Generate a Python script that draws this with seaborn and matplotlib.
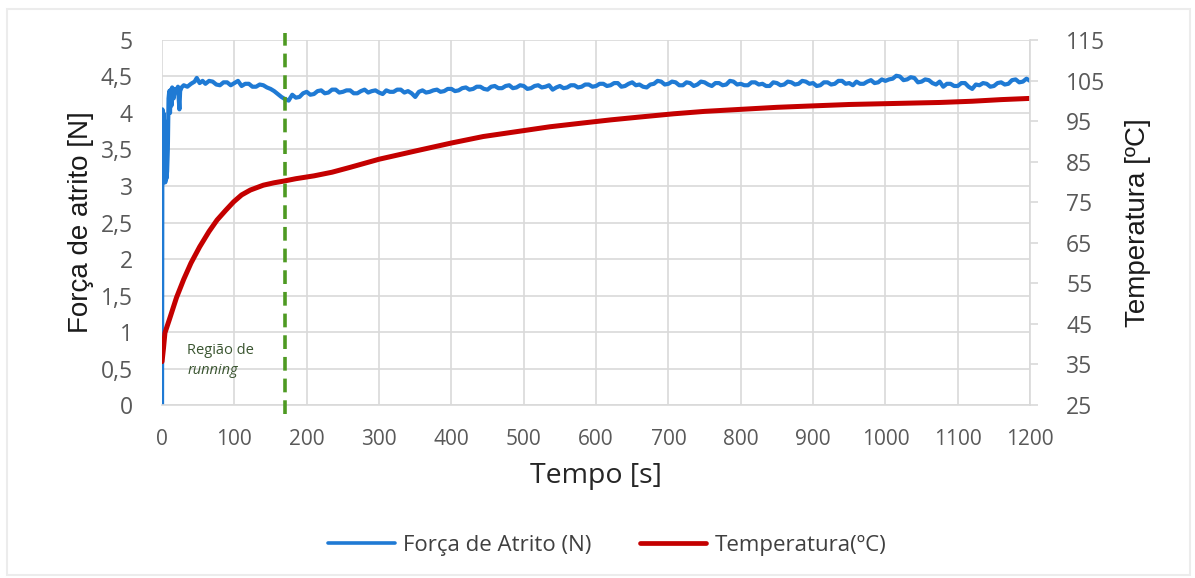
import numpy as np
import pandas as pd
import matplotlib
matplotlib.use('Agg')
import matplotlib.pyplot as plt
import seaborn as sns
from matplotlib.patches import Rectangle
from matplotlib.lines import Line2D

# Friction force [N]: start-up transient
start_time = [0, 0.5, 1, 1.5, 2, 2.5, 3, 3.5, 4, 4.5, 5, 6, 7, 8, 9, 10, 11, 12, 13, 14,
              16, 18, 20, 22, 24, 25, 27, 30, 35, 40, 45, 48, 52, 56]
start_force = [0, 4.05, 3.9, 3.1, 4.0, 3.05, 3.9, 3.1, 3.6, 3.05, 3.3, 3.1, 3.2, 3.5, 4.2, 4.3, 4.0,
               4.32, 4.1, 4.35, 4.2, 4.33, 4.3, 4.36, 4.05, 4.3, 4.35, 4.38, 4.36, 4.4, 4.43, 4.48,
               4.41, 4.44]
# then one reading every 5 s from 60 s to 1200 s
steady_time = list(range(60, 1201, 5))
steady_force = [
    4.40, 4.44, 4.43, 4.39, 4.38, 4.42, 4.42, 4.38, 4.41, 4.44, 4.37, 4.40, 4.40, 4.36, 4.36, 4.39, 4.38, 4.35, 4.33, 4.30,
    4.26, 4.22, 4.19, 4.17, 4.25, 4.21, 4.22, 4.27, 4.29, 4.25, 4.26, 4.30, 4.31, 4.27, 4.28, 4.32, 4.32, 4.28, 4.29, 4.31,
    4.31, 4.27, 4.27, 4.30, 4.32, 4.28, 4.30, 4.31, 4.28, 4.26, 4.31, 4.29, 4.29, 4.32, 4.32, 4.28, 4.30, 4.27, 4.22, 4.29,
    4.31, 4.28, 4.29, 4.31, 4.32, 4.29, 4.30, 4.33, 4.33, 4.30, 4.31, 4.34, 4.35, 4.32, 4.33, 4.36, 4.36, 4.33, 4.32, 4.36,
    4.37, 4.34, 4.34, 4.37, 4.38, 4.34, 4.35, 4.38, 4.37, 4.33, 4.34, 4.37, 4.38, 4.35, 4.36, 4.38, 4.32, 4.35, 4.37, 4.34,
    4.35, 4.38, 4.38, 4.35, 4.36, 4.39, 4.39, 4.36, 4.37, 4.40, 4.40, 4.37, 4.38, 4.41, 4.41, 4.36, 4.37, 4.40, 4.42, 4.38,
    4.39, 4.36, 4.35, 4.39, 4.40, 4.44, 4.43, 4.39, 4.40, 4.43, 4.42, 4.38, 4.38, 4.42, 4.41, 4.37, 4.39, 4.43, 4.42, 4.39,
    4.37, 4.41, 4.41, 4.38, 4.39, 4.44, 4.43, 4.39, 4.40, 4.38, 4.38, 4.42, 4.42, 4.39, 4.40, 4.37, 4.37, 4.42, 4.41, 4.38,
    4.39, 4.43, 4.42, 4.39, 4.40, 4.44, 4.43, 4.40, 4.41, 4.37, 4.38, 4.42, 4.42, 4.39, 4.40, 4.44, 4.44, 4.40, 4.41, 4.38,
    4.43, 4.40, 4.40, 4.43, 4.45, 4.41, 4.42, 4.46, 4.44, 4.46, 4.47, 4.51, 4.50, 4.45, 4.46, 4.49, 4.48, 4.42, 4.43, 4.46,
    4.45, 4.41, 4.39, 4.43, 4.36, 4.40, 4.40, 4.37, 4.37, 4.41, 4.41, 4.36, 4.33, 4.39, 4.38, 4.41, 4.40, 4.36, 4.37, 4.41,
    4.42, 4.39, 4.40, 4.45, 4.46, 4.42, 4.43, 4.47, 4.44]

# Temperature [ºC]
temp_time = [0, 2, 4, 10, 20, 30, 40, 52, 65, 76, 88, 99, 110, 122, 140, 155, 168, 185,
             210, 235, 260, 300, 352, 400, 444, 490, 536, 580, 620, 660, 707, 750, 800,
             850, 892, 950, 1000, 1050, 1076, 1120, 1160, 1200]
temp = [35.7, 39, 42.8, 46, 51.5, 56, 60, 64, 67.8, 70.6, 73, 75.1, 76.8, 78, 79.2, 79.8, 80.2, 80.8,
        81.5, 82.4, 83.6, 85.6, 87.7, 89.6, 91.2, 92.4, 93.6, 94.5, 95.3, 96, 96.8, 97.4, 97.9,
        98.4, 98.7, 99.1, 99.3, 99.5, 99.6, 99.9, 100.3, 100.6]

running_end = 170
x_ticks = list(range(0, 1201, 100))
force_ticks = [0, 0.5, 1, 1.5, 2, 2.5, 3, 3.5, 4, 4.5, 5]
force_labels = ['0', '0,5', '1', '1,5', '2', '2,5', '3', '3,5', '4', '4,5', '5']
temp_ticks = [25, 35, 45, 55, 65, 75, 85, 95, 105, 115]

df_f = pd.DataFrame({'t': start_time + steady_time, 'f': start_force + steady_force})
df_t = pd.DataFrame({'t': temp_time, 'T': temp})

sns.set_style('white')
plt.rcParams['font.family'] = ['Open Sans', 'DejaVu Sans']

blue = '#1f7ad4'
red = '#c40000'
green = '#4e9a22'
grid_c = '#d9d9d9'
tick_c = '#595959'

fig = plt.figure(figsize=(11.95, 5.78), dpi=100)
ax = fig.add_axes([0.1356, 0.2993, 0.7264, 0.6315])
ax2 = ax.twinx()

sns.lineplot(data=df_f, x='t', y='f', ax=ax, color=blue, lw=3.0, estimator=None, sort=False)
sns.lineplot(data=df_t, x='t', y='T', ax=ax2, color=red, lw=3.6, estimator=None, sort=False)

ax.set_xlim(0, 1200)
ax.set_ylim(0, 5)
ax2.set_ylim(25, 115)
ax.set_xticks(x_ticks)
ax.set_yticks(force_ticks)
ax.set_yticklabels(force_labels)
ax2.set_yticks(temp_ticks)

ax.grid(True, color=grid_c, lw=1.2)
ax.set_axisbelow(True)
for a in (ax, ax2):
    for s in a.spines.values():
        s.set_visible(False)
ax2.spines['right'].set_visible(True)
ax2.spines['right'].set_color(grid_c)
ax2.spines['right'].set_linewidth(1.2)
ax.spines['bottom'].set_visible(True)
ax.spines['bottom'].set_color(grid_c)
ax.spines['bottom'].set_linewidth(1.2)

ax.tick_params(axis='x', length=0, labelsize=15, labelcolor=tick_c, pad=17)
ax.tick_params(axis='y', length=0, labelsize=16.5, labelcolor=tick_c, pad=21)
ax2.tick_params(axis='y', length=6, color=grid_c, width=1.2, labelsize=16.5, labelcolor=tick_c, pad=20)

ax.set_xlabel('Tempo [s]', fontsize=20.5, color='#262626', labelpad=9)
ax.set_ylabel('Força de atrito [N]', fontsize=20, color='#1a1a1a', family='Liberation Sans', labelpad=5)
ax2.set_ylabel('Temperatura [ºC]', fontsize=20, color='#1a1a1a', family='Liberation Sans', labelpad=14)

ax2.axvline(running_end, ymin=-0.025, ymax=1.02, color=green, lw=2.6, ls=(0, (3.8, 2.2)), clip_on=False)

ax.text(35, 0.75, 'Região de', fontsize=10.5, color='#3a5530', va='center')
ax.text(35, 0.47, 'running', fontsize=10.5, color='#3a5530', va='center', style='italic')

handles = [Line2D([], [], color=blue, lw=2.6), Line2D([], [], color=red, lw=3.4)]
fig.legend(handles, ['Força de Atrito (N)', 'Temperatura(ºC)'], loc='center', bbox_to_anchor=(0.508, 0.057),
           ncol=2, frameon=False, fontsize=16, handlelength=3.0, handletextpad=0.35, columnspacing=2.2,
           labelcolor='#404040')

fig.patches.append(Rectangle((0.006, 0.006), 0.99, 0.978, transform=fig.transFigure, fill=False,
                             edgecolor='#ececec', lw=1.5))

fig.savefig('out.png', dpi=100)
